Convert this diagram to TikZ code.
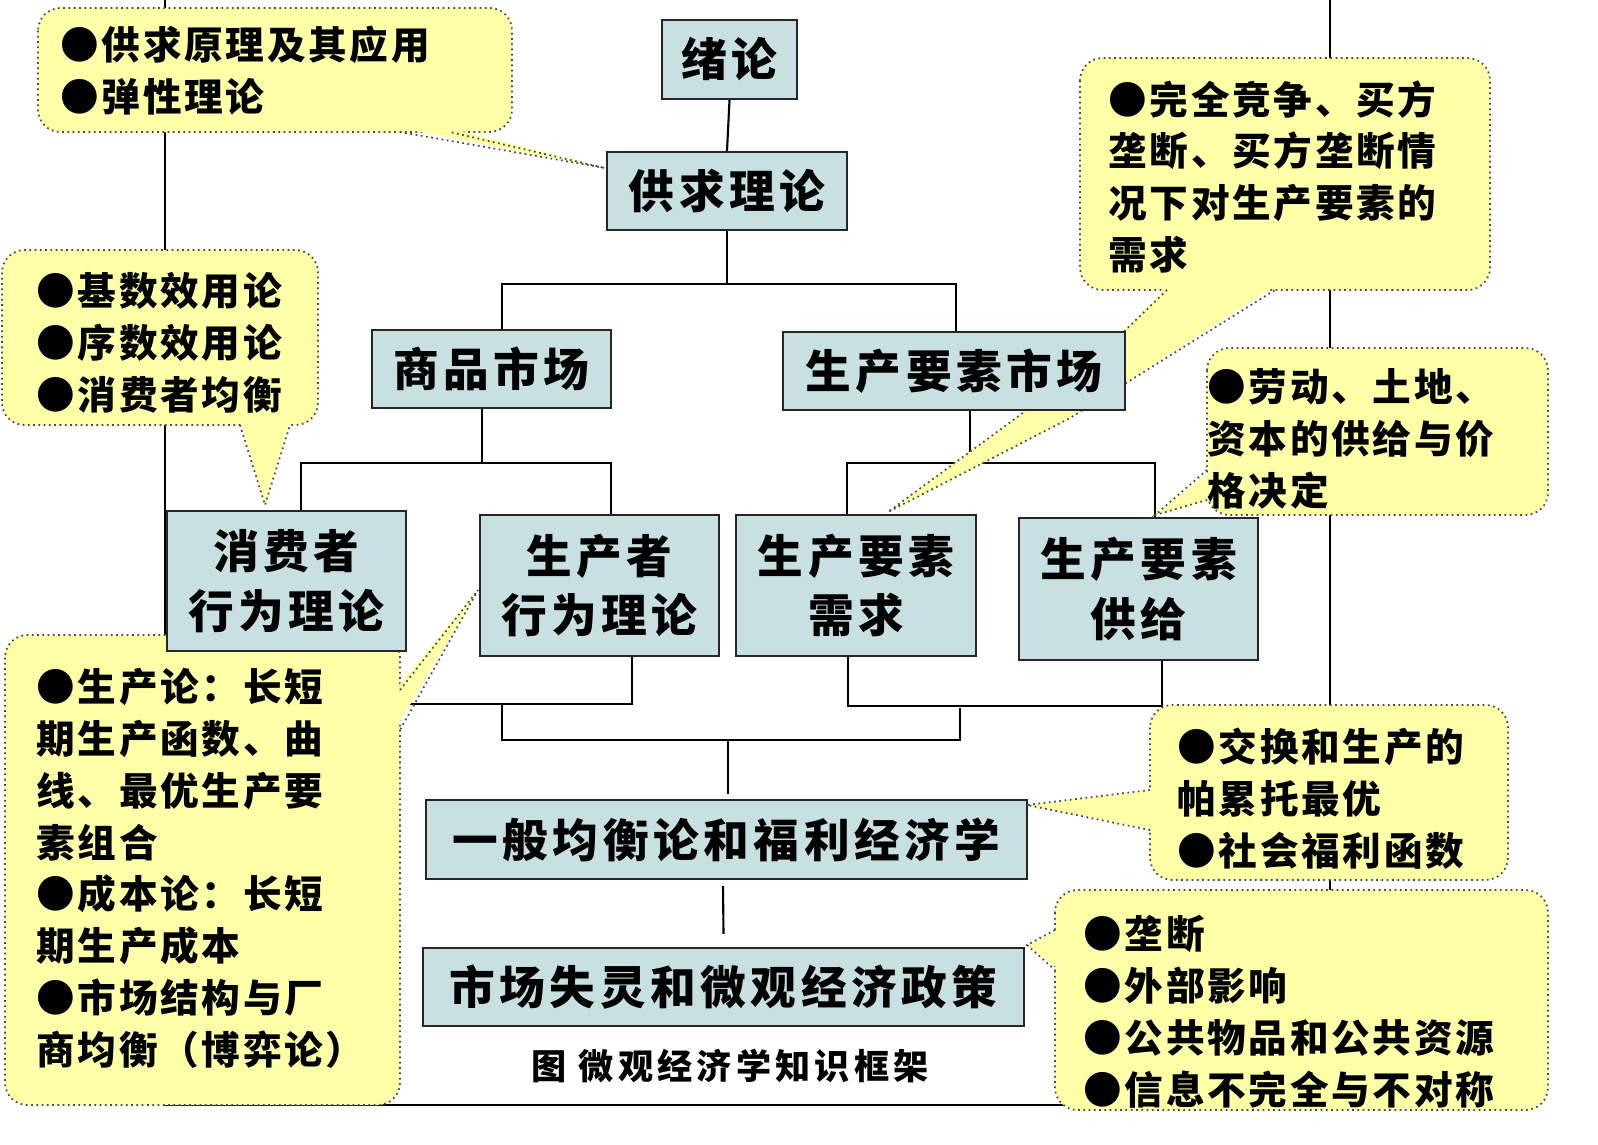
\documentclass[tikz,border=0pt]{standalone}
\usepackage{fontspec}
\setmainfont{Noto Sans CJK SC}
\newfontfamily\boxfont{Noto Sans CJK SC}[LetterSpace=10]
\newfontfamily\callfont{Noto Sans CJK SC}[LetterSpace=7]
\newfontfamily\capfont{Noto Sans CJK SC}[LetterSpace=12]
\begin{document}
\begin{tikzpicture}[x=0.02cm,y=-0.02cm,
 box/.style={draw=black!85,line width=1.2pt,fill=boxc,inner sep=0pt,align=center,font=\boxfont\fontsize{26}{34}\selectfont\bfseries},
 call/.style={draw=black!70,dotted,line width=1pt,fill=callc,rounded corners=0.45cm},
 ptr/.style={fill=callc},
 pedge/.style={draw=black!70,dotted,line width=1pt},
 ctext/.style={anchor=north west,align=left,inner sep=0pt,font=\callfont\fontsize{22}{29.5}\selectfont\bfseries},
 ln/.style={line width=1.2pt}]
\definecolor{boxc}{HTML}{C8E0E2}
\definecolor{callc}{HTML}{FFFFA8}
\useasboundingbox[fill=white] (0,0) rectangle (1598,1144);
% frame lines
\draw[ln] (165,0) -- (165,1105) -- (1330,1105) -- (1330,0);
% boxes
\path (729.5,59.5) node[box,minimum width=2.7cm,minimum height=1.58cm] (xl) {绪论}
 (727,191) node[box,minimum width=4.8cm,minimum height=1.56cm] (gq) {供求理论}
 (491.5,369) node[box,minimum width=4.78cm,minimum height=1.56cm] (sp) {商品市场}
 (954,371) node[box,minimum width=6.84cm,minimum height=1.56cm] (ys) {生产要素市场}
 (286.5,581) node[box,minimum width=4.78cm,minimum height=2.8cm] (xf) {消费者\\行为理论}
 (599.5,585.5) node[box,minimum width=4.78cm,minimum height=2.82cm] (sc) {生产者\\行为理论}
 (856,585.5) node[box,minimum width=4.8cm,minimum height=2.82cm] (xq) {生产要素\\需求}
 (1138.5,589) node[box,minimum width=4.78cm,minimum height=2.84cm] (gj) {生产要素\\供给}
 (726.5,839.5) node[box,minimum width=12.02cm,minimum height=1.58cm] (yb) {一般均衡论和福利经济学}
 (723.5,987) node[box,minimum width=12.02cm,minimum height=1.56cm] (sl) {市场失灵和微观经济政策};
% connectors
\draw[ln] (xl.south) -- (gq.north);
\draw[ln] (gq.south) -- ++(0,53) coordinate (j1);
\draw[ln] ([xshift=0.21cm]sp.north) |- (j1) -| ([xshift=0.04cm]ys.north);
\draw[ln] ([xshift=-0.19cm]sp.south) -- ++(0,54) coordinate (j2);
\draw[ln] ([xshift=0.29cm]xf.north) |- (j2) -| ([xshift=0.23cm]sc.north);
\draw[ln] ([xshift=0.32cm]ys.south) -- ++(0,52) coordinate (j3);
\draw[ln] ([xshift=-0.18cm]xq.north) |- (j3) -| ([xshift=0.33cm]gj.north);
\coordinate (b1) at (400,704);
\draw[ln] ([xshift=0.65cm]sc.south) |- (b1);
\draw[ln] ([xshift=-0.16cm]xq.south) -- ++(0,49) -| ([xshift=0.47cm]gj.south);
\coordinate (k1) at (502,705); \coordinate (k2) at (960,708);
\draw[ln] (k1) |- (960,740) -- (k2);
\draw[ln] ([xshift=0.03cm,yshift=0.1cm]yb.north) -- ++(0,-53);
\draw[ln] ([xshift=-0.07cm,yshift=-0.12cm]yb.south) -- ([yshift=0.26cm]sl.north);
% callouts
\draw[call] (38,8) rectangle (512,132);
\fill[ptr] (400,128) -- (605,168) -- (450,128) -- cycle;
\draw[pedge] (400,132) -- (605,168) -- (450,132);
\node[ctext] (c1) at (60,26) {●供求原理及其应用\\●弹性理论};
\draw[call] (1080,58) rectangle (1490,290);
\fill[ptr] (1167,286) -- (1110,345) -- (1020,415) -- (888,512) -- (1070,418) -- (1275,286) -- cycle;
\draw[pedge] (1167,290) -- (1110,345) -- (1020,415) -- (888,512) -- (1070,418) -- (1275,290);
\node[ctext] (c2) at (1108,80) {●完全竞争、买方\\垄断、买方垄断情\\况下对生产要素的\\需求};
\draw[call] (2,250) rectangle (318,425);
\fill[ptr] (240,420) -- (265,505) -- (290,420) -- cycle;
\draw[pedge] (240,425) -- (265,505) -- (290,425);
\node[ctext] (c3) at (36,272) {●基数效用论\\●序数效用论\\●消费者均衡};
\draw[call] (1207,348) rectangle (1548,515);
\fill[ptr] (1212,470) -- (1155,515) -- (1212,500) -- cycle;
\draw[pedge] (1207,470) -- (1155,515) -- (1207,500);
\node[ctext] (c4) at (1207,368) {●劳动、土地、\\资本的供给与价\\格决定};
\draw[call] (5,635) rectangle (400,1105);
\fill[ptr] (395,690) -- (478,590) -- (395,730) -- cycle;
\draw[pedge] (400,690) -- (478,590) -- (400,730);
\node[ctext] (c5) at (36,668) {●生产论：长短\\期生产函数、曲\\线、最优生产要\\素组合\\●成本论：长短\\期生产成本\\●市场结构与厂\\商均衡（博弈论）};
\draw[call] (1150,705) rectangle (1508,880);
\fill[ptr] (1155,790) -- (1027,805) -- (1155,830) -- cycle;
\draw[pedge] (1150,790) -- (1027,805) -- (1150,830);
\node[ctext] (c7) at (1177,728) {●交换和生产的\\帕累托最优\\●社会福利函数};
\draw[call] (1055,890) rectangle (1548,1110);
\fill[ptr] (1060,930) -- (1027,945) -- (1060,970) -- cycle;
\draw[pedge] (1055,930) -- (1027,945) -- (1055,970);
\node[ctext] (c8) at (1083,915) {●垄断\\●外部影响\\●公共物品和公共资源\\●信息不完全与不对称};
% boxes redrawn on top of callout pointers
\path (729.5,59.5) node[box,minimum width=2.7cm,minimum height=1.58cm] {绪论}
 (727,191) node[box,minimum width=4.8cm,minimum height=1.56cm] {供求理论}
 (954,371) node[box,minimum width=6.84cm,minimum height=1.56cm] {生产要素市场}
 (286.5,581) node[box,minimum width=4.78cm,minimum height=2.8cm] {消费者\\行为理论}
 (599.5,585.5) node[box,minimum width=4.78cm,minimum height=2.82cm] {生产者\\行为理论}
 (856,585.5) node[box,minimum width=4.8cm,minimum height=2.82cm] {生产要素\\需求}
 (1138.5,589) node[box,minimum width=4.78cm,minimum height=2.84cm] {生产要素\\供给};
\node[font=\capfont\fontsize{20}{22}\selectfont\bfseries] (cap) at (730,1066) {图\ 微观经济学知识框架};
\end{tikzpicture}
\end{document}
